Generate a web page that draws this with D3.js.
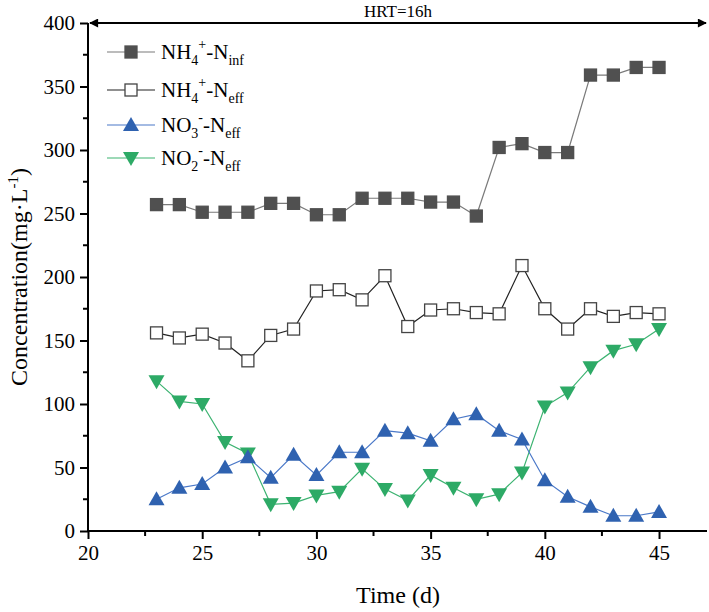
<!DOCTYPE html>
<html><head><meta charset="utf-8">
<script src="https://cdn.jsdelivr.net/npm/d3@7"></script>
<style>body{margin:0;background:#fff}svg text{font-family:"Liberation Serif","Times New Roman",serif !important}</style>
</head><body><svg id="c" width="709" height="612"></svg>
<script>
const days = [23,24,25,26,27,28,29,30,31,32,33,34,35,36,37,38,39,40,41,42,43,44,45];
const nh4Inf = [257,257,251,251,251,258,258,249,249,262,262,262,259,259,248,302,305,298,298,359,359,365,365];
const nh4Eff = [156,152,155,148,134,154,159,189,190,182,201,161,174,175,172,171,209,175,159,175,169,172,171];
const no3Eff = [25,34,37,50,58,42,60,44,62,62,79,77,71,88,92,79,72,40,27,19,12,12,15];
const no2Eff = [118,102,100,70,61,21,22,28,31,49,33,24,44,34,25,29,46,98,109,129,142,147,159];
const yTicks = [0,50,100,150,200,250,300,350,400];
const xTicks = [20,25,30,35,40,45];

const svg = d3.select("#c");
const x = d3.scaleLinear().domain([20,47.1]).range([88,707]);
const y = d3.scaleLinear().domain([0,400]).range([531,23]);

// axes
const xAxis = d3.axisBottom(x).tickValues(xTicks).tickSize(8).tickPadding(6).tickFormat(d3.format("d"));
const gx = svg.append("g").attr("transform","translate(0,531)").call(xAxis).attr("font-family",null);
gx.select(".domain").attr("stroke","#000").attr("stroke-width",2).attr("d","M88,0H707");
gx.selectAll(".tick line").attr("stroke-width",2);
gx.selectAll(".tick text").attr("font-size",21).attr("fill","#000");
const xMinor = [22.5,27.5,32.5,37.5,42.5];
gx.selectAll(".minor").data(xMinor).enter().append("line")
  .attr("x1",d=>x(d)).attr("x2",d=>x(d)).attr("y1",0).attr("y2",5).attr("stroke","#000").attr("stroke-width",2);

const yAxis = d3.axisLeft(y).tickValues(yTicks).tickSize(8).tickPadding(5);
const gy = svg.append("g").attr("transform","translate(88,0)").call(yAxis).attr("font-family",null);
gy.select(".domain").attr("stroke","#000").attr("stroke-width",2).attr("d","M0,531V23");
gy.selectAll(".tick line").attr("stroke-width",2);
gy.selectAll(".tick text").attr("font-size",21).attr("fill","#000");
const yMinor = [25,75,125,175,225,275,325,375];
gy.selectAll(".minor").data(yMinor).enter().append("line")
  .attr("x1",0).attr("x2",-5).attr("y1",d=>y(d)).attr("y2",d=>y(d)).attr("stroke","#000").attr("stroke-width",2);

// axis titles
svg.append("text").attr("x",398).attr("y",603).attr("text-anchor","middle").attr("font-size",24).text("Time (d)");
const yl = svg.append("text").attr("transform","translate(27,277) rotate(-90)").attr("text-anchor","middle").attr("font-size",24);
yl.append("tspan").text("Concentration(mg·L");
yl.append("tspan").attr("dy",-9).attr("font-size",15).text("-1");
yl.append("tspan").attr("dy",9).text(")");

// HRT arrow
const defs = svg.append("defs");
defs.append("marker").attr("id","ah").attr("viewBox","0 0 10 10").attr("refX",9).attr("refY",5)
  .attr("markerWidth",14).attr("markerHeight",9).attr("markerUnits","userSpaceOnUse").attr("orient","auto-start-reverse")
  .append("path").attr("d","M0,0L10,5L0,10Z").attr("fill","#000");
svg.append("line").attr("x1",x(20)+2).attr("x2",x(47.1)-1).attr("y1",y(400)).attr("y2",y(400))
  .attr("stroke","#000").attr("stroke-width",2).attr("marker-start","url(#ah)").attr("marker-end","url(#ah)");
svg.append("text").attr("x",398).attr("y",17).attr("text-anchor","middle").attr("font-size",17).text("HRT=16h");

// series
const series = [
  {vals:nh4Inf, line:"#7a7a7a", fill:"#505050", stroke:"#505050", sym:"sq"},
  {vals:nh4Eff, line:"#222", fill:"#fff", stroke:"#444", sym:"sq"},
  {vals:no3Eff, line:"#4a78c8", fill:"#2f62b0", stroke:"#2f62b0", sym:"up"},
  {vals:no2Eff, line:"#3cb371", fill:"#2daa66", stroke:"#2daa66", sym:"dn"}
];
function marker(g, sym, cx, cy, s){
  if(sym==="sq") g.append("rect").attr("x",cx-6).attr("y",cy-6).attr("width",12).attr("height",12).attr("fill",s.fill).attr("stroke",s.stroke).attr("stroke-width",1.3);
  else if(sym==="up") g.append("path").attr("d",`M${cx},${cy-8}L${cx+8},${cy+6}L${cx-8},${cy+6}Z`).attr("fill",s.fill);
  else g.append("path").attr("d",`M${cx},${cy+8}L${cx+8},${cy-6}L${cx-8},${cy-6}Z`).attr("fill",s.fill);
}
const line = d3.line().x((d,i)=>x(days[i])).y(d=>y(d));
series.slice().reverse().forEach(s=>{
  const g = svg.append("g");
  g.append("path").attr("d",line(s.vals)).attr("fill","none").attr("stroke",s.line).attr("stroke-width",1.2);
  s.vals.forEach((v,i)=>marker(g,s.sym,x(days[i]),y(v),s));
});

// legend
const leg = [
  {base:"NH",sub1:"4",sup:"+",tail:"-N",sub2:"inf"},
  {base:"NH",sub1:"4",sup:"+",tail:"-N",sub2:"eff"},
  {base:"NO",sub1:"3",sup:"-",tail:"-N",sub2:"eff"},
  {base:"NO",sub1:"2",sup:"-",tail:"-N",sub2:"eff"}
];
const legY = [52,90,125,158];
leg.forEach((l,i)=>{
  const s = series[i], ly = legY[i];
  const g = svg.append("g");
  g.append("line").attr("x1",107).attr("x2",155).attr("y1",ly).attr("y2",ly).attr("stroke",s.line).attr("stroke-width",1.2);
  marker(g,s.sym,131,ly,s);
  const t = g.append("text").attr("x",161).attr("y",ly+7).attr("font-size",21);
  t.append("tspan").text(l.base);
  t.append("tspan").attr("dy",6).attr("font-size",14).text(l.sub1);
  t.append("tspan").attr("dy",-16).attr("font-size",14).text(l.sup);
  t.append("tspan").attr("dy",10).text(l.tail);
  t.append("tspan").attr("dy",6).attr("font-size",14).text(l.sub2);
});
</script></body></html>
